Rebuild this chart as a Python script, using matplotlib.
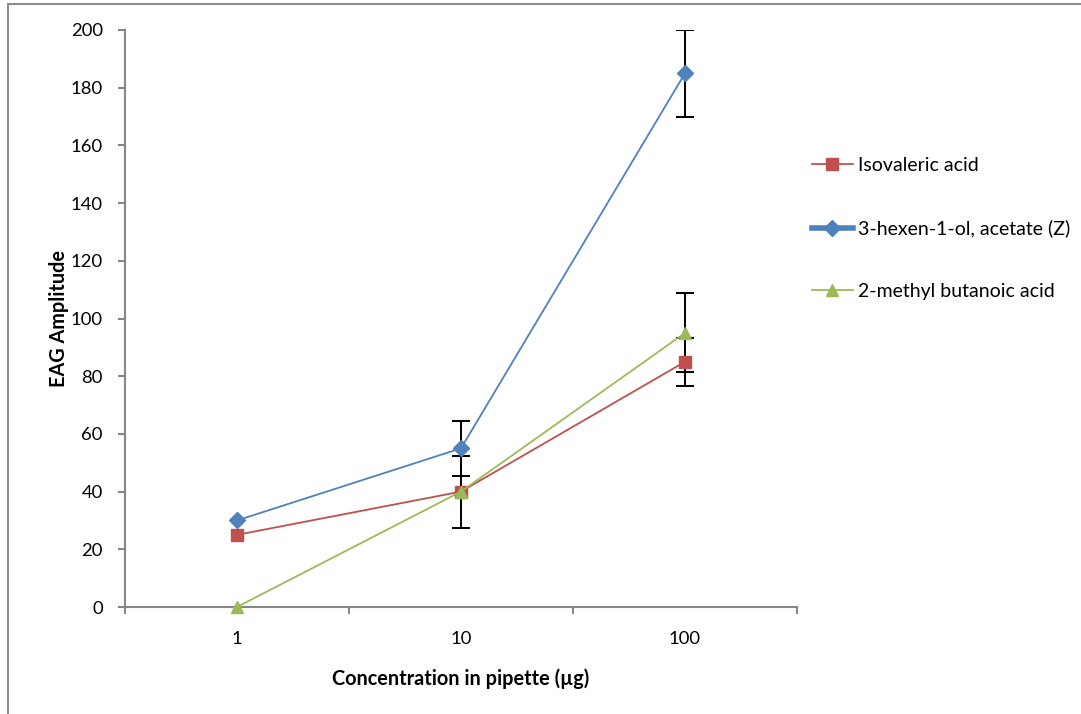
import matplotlib.pyplot as plt
from matplotlib.patches import Rectangle

plt.rcParams['font.family'] = ['Lato', 'DejaVu Sans']

categories = ["1", "10", "100"]
series_names = ["Isovaleric acid", "3-hexen-1-ol, acetate (Z)", "2-methyl butanoic acid"]
isovaleric = [25, 40, 85]
hexenol = [30, 55, 185]
methylbut = [0, 40, 95]
isovaleric_err = [0, 12.5, 8.3]
hexenol_err = [0, 9.5, 15]
methylbut_err = [0, 0, 13.7]

colors = ["#C0504D", "#4F81BD", "#9BBB59"]
markers = ["s", "D", "^"]
msizes = [8.5, 8, 8.5]

fig = plt.figure(figsize=(10.81, 7.14), dpi=100)
# outer chart border
fig.patches.append(Rectangle((8 / 1081, -0.1), 1.2, 1 - 4 / 714 + 0.1, transform=fig.transFigure,
                             fill=False, edgecolor="#8c8c8c", lw=1.5))
ax = fig.add_axes([125 / 1081, 1 - 607 / 714, (797 - 125) / 1081, (607 - 30) / 714])

xs = list(range(len(categories)))
data = [isovaleric, hexenol, methylbut]
errs = [isovaleric_err, hexenol_err, methylbut_err]
for vals, err, c, m, ms, name in zip(data, errs, colors, markers, msizes, series_names):
    ax.plot(xs, vals, color=c, marker=m, markersize=ms, lw=1.3, label=name, zorder=3, clip_on=False)
    ex = [x for x, e in zip(xs, err) if e > 0]
    ey = [v for v, e in zip(vals, err) if e > 0]
    ee = [e for e in err if e > 0]
    ax.errorbar(ex, ey, yerr=ee, fmt="none", ecolor="black", elinewidth=1.4,
                capsize=6.5, capthick=1.4, zorder=2)

ax.set_xlim(-0.5, 2.5)
ax.set_ylim(0, 200)
ax.set_yticks(range(0, 201, 20))
ax.set_xticks([-0.5, 0.5, 1.5, 2.5])
ax.set_xticklabels([])
ax.set_xticks(xs, minor=True)
ax.set_xticklabels(categories, minor=True)
ax.tick_params(axis="x", which="major", direction="out", length=5, width=1.5, color="#868686")
ax.tick_params(axis="x", which="minor", length=0, pad=17, labelsize=13.3)
ax.tick_params(axis="y", direction="out", length=5, width=1.5, color="#868686", pad=11, labelsize=13.3)

for s in ["top", "right"]:
    ax.spines[s].set_visible(False)
for s in ["left", "bottom"]:
    ax.spines[s].set_color("#868686")
    ax.spines[s].set_linewidth(1.5)

ax.set_ylabel("EAG Amplitude", fontsize=14.3, fontweight="bold")
ax.yaxis.set_label_coords(-56 / 672, 0.5)
ax.set_xlabel("Concentration in pipette (µg)", fontsize=14.3, fontweight="bold")
ax.xaxis.set_label_coords(0.5, -61 / 577)

leg = fig.legend(loc="upper left", bbox_to_anchor=(812 / 1081, 1 - 157 / 714), frameon=False,
                 fontsize=14, labelspacing=2.35, handlelength=2.1, handletextpad=0.26,
                 borderpad=0, borderaxespad=0)
leg.get_lines()[1].set_linewidth(4)

fig.savefig("out.png", dpi=100)
